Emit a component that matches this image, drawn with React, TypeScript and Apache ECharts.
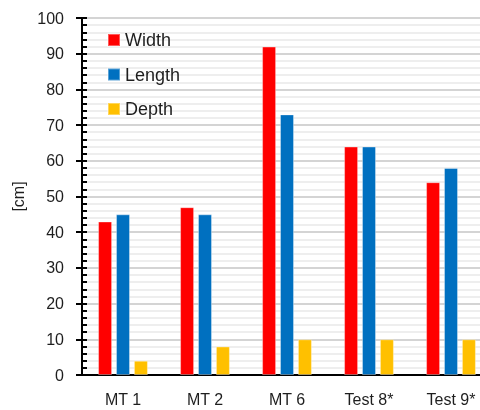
import React, { useEffect, useRef } from "react";
import * as echarts from "echarts";

const categories = ["MT 1", "MT 2", "MT 6", "Test 8*", "Test 9*"];
const widthValues = [43, 47, 92, 64, 54];
const lengthValues = [45, 45, 73, 64, 58];
const depthValues = [4, 8, 10, 10, 10];
const seriesNames = ["Width", "Length", "Depth"];
const colors = ["#FF0000", "#0070C0", "#FFC000"];

const FONT = "Liberation Sans, Arial, sans-serif";
const TEXT = "#1e1e1e";

export default function App() {
  const ref = useRef<HTMLDivElement>(null);
  useEffect(() => {
    if (!ref.current) return;
    const chart = echarts.init(ref.current, undefined, { renderer: "svg" });
    const values = [widthValues, lengthValues, depthValues];
    chart.setOption({
      animation: false,
      textStyle: { fontFamily: FONT },
      grid: {
        left: 82,
        top: 18,
        right: 0,
        bottom: 35,
        show: true,
        borderColor: "#000",
        borderWidth: 2,
        backgroundColor: "transparent",
      },
      legend: {
        orient: "vertical",
        left: 102,
        top: 26,
        icon: "rect",
        itemWidth: 12,
        itemHeight: 12,
        itemGap: 16.5,
        textStyle: { fontSize: 18, color: TEXT, fontFamily: FONT },
        data: seriesNames,
      },
      xAxis: {
        type: "category",
        data: categories,
        axisLine: { lineStyle: { color: "#000", width: 2 } },
        axisTick: { show: false },
        axisLabel: { fontSize: 16, color: TEXT, margin: 16, fontFamily: FONT },
        splitLine: { show: false },
      },
      yAxis: [
        {
          type: "value",
          min: 0,
          max: 100,
          interval: 10,
          name: "[cm]",
          nameLocation: "middle",
          nameGap: 56,
          nameTextStyle: { fontSize: 16, color: TEXT, fontFamily: FONT },
          axisLine: { show: true, lineStyle: { color: "#000", width: 2 } },
          axisTick: { show: true, length: 6, lineStyle: { color: "#000", width: 2 } },
          axisLabel: { fontSize: 16, color: TEXT, margin: 18, fontFamily: FONT },
          splitLine: { show: true, lineStyle: { color: "#d4d4d4", width: 2 } },
          minorTick: { show: false, splitNumber: 5 },
          minorSplitLine: { show: true, lineStyle: { color: "#eeeeee", width: 2 } },
        },
        {
          type: "value",
          min: 0,
          max: 100,
          interval: 2,
          position: "left",
          axisLine: { show: false },
          axisTick: { show: true, inside: true, length: 5, lineStyle: { color: "#000", width: 2 } },
          axisLabel: { show: false },
          splitLine: { show: false },
        },
      ],
      series: seriesNames.map((name, i) => ({
        name,
        type: "bar",
        yAxisIndex: 0,
        data: values[i],
        barWidth: 14,
        barGap: "28%",
        itemStyle: { color: colors[i], borderColor: "rgba(255,255,255,0.35)", borderWidth: 1 },
      })),
    });
    return () => chart.dispose();
  }, []);
  return (
    <div
      style={{
        position: "fixed",
        left: 0,
        top: 0,
        width: 480,
        height: 410,
        overflow: "hidden",
      }}
    >
      <div ref={ref} style={{ width: 492, height: 410 }} />
    </div>
  );
}
